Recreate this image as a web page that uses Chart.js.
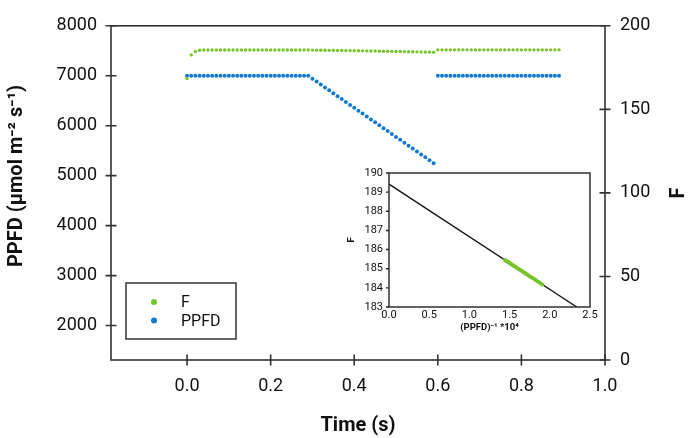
<!DOCTYPE html>
<html lang="en">
<head>
<meta charset="UTF-8">
<title>F and PPFD vs time</title>
<style>
  html, body { margin: 0; padding: 0; background: #fff; }
  .wrap { position: relative; width: 688px; height: 438px; }
  #mainChart { position: absolute; left: 0; top: 0; }
  #insetChart { position: absolute; left: 340px; top: 160px; }
</style>
</head>
<body>
<div class="wrap">
  <canvas id="mainChart" width="688" height="438"></canvas>
  <canvas id="insetChart" width="260" height="180"></canvas>
</div>

<script src="https://cdn.jsdelivr.net/npm/chart.js@4.4.0/dist/chart.umd.min.js"></script>
<script>
// --- data (sampling every 0.01 s) ---
const timeHold    = [0.00,0.01,0.02,0.03,0.04,0.05,0.06,0.07,0.08,0.09,0.10,0.11,0.12,0.13,0.14,0.15,0.16,0.17,0.18,0.19,0.20,0.21,0.22,0.23,0.24,0.25,0.26,0.27,0.28,0.29];
const timeRamp    = [0.30,0.31,0.32,0.33,0.34,0.35,0.36,0.37,0.38,0.39,0.40,0.41,0.42,0.43,0.44,0.45,0.46,0.47,0.48,0.49,0.50,0.51,0.52,0.53,0.54,0.55,0.56,0.57,0.58,0.59];
const timeRecover = [0.60,0.61,0.62,0.63,0.64,0.65,0.66,0.67,0.68,0.69,0.70,0.71,0.72,0.73,0.74,0.75,0.76,0.77,0.78,0.79,0.80,0.81,0.82,0.83,0.84,0.85,0.86,0.87,0.88,0.89];

const ppfdHold    = [7000,7000,7000,7000,7000,7000,7000,7000,7000,7000,7000,7000,7000,7000,7000,7000,7000,7000,7000,7000,7000,7000,7000,7000,7000,7000,7000,7000,7000,7000];
const ppfdRamp    = [6942,6883,6825,6767,6708,6650,6592,6533,6475,6417,6358,6300,6242,6183,6125,6067,6008,5950,5892,5833,5775,5717,5658,5600,5542,5483,5425,5367,5308,5250];
const ppfdRecover = [7000,7000,7000,7000,7000,7000,7000,7000,7000,7000,7000,7000,7000,7000,7000,7000,7000,7000,7000,7000,7000,7000,7000,7000,7000,7000,7000,7000,7000,7000];

const fHold    = [168.4,182.6,184.6,185.4,185.5,185.5,185.5,185.5,185.5,185.5,185.5,185.5,185.5,185.5,185.5,185.5,185.5,185.5,185.5,185.5,185.5,185.5,185.5,185.5,185.5,185.5,185.5,185.5,185.5,185.5];
const fRamp    = [185.46,185.42,185.39,185.36,185.32,185.29,185.25,185.21,185.17,185.13,185.10,185.05,185.01,184.97,184.93,184.89,184.84,184.80,184.75,184.71,184.66,184.61,184.56,184.51,184.46,184.41,184.35,184.30,184.24,184.18];
const fRecover = [185.6,185.6,185.6,185.6,185.6,185.6,185.6,185.6,185.6,185.6,185.6,185.6,185.6,185.6,185.6,185.6,185.6,185.6,185.6,185.6,185.6,185.6,185.6,185.6,185.6,185.6,185.6,185.6,185.6,185.6];

// inset: F against (PPFD)^-1 * 10^4 during the ramp, plus fitted line
const invPpfd = [1.441,1.453,1.465,1.478,1.491,1.504,1.517,1.531,1.544,1.558,1.573,1.587,1.602,1.617,1.633,1.648,1.664,1.681,1.697,1.714,1.732,1.749,1.767,1.786,1.805,1.824,1.843,1.863,1.884,1.905];
const fitX = [0, 2.335];
const fitY = [189.42, 183.0];

// tick labels
const timeTicks = [0, 0.2, 0.4, 0.6, 0.8, 1.0];
const ppfdTicks = [2000, 3000, 4000, 5000, 6000, 7000, 8000];
const fTicks = [0, 50, 100, 150, 200];
const insetXTicks = [0, 0.5, 1.0, 1.5, 2.0, 2.5];
const insetYTicks = [183, 184, 185, 186, 187, 188, 189, 190];

const GREEN = '#78c42c';
const BLUE = '#1479d2';
const INK = '#111';
const FONT = "Roboto, 'DejaVu Sans', sans-serif";

const time = timeHold.concat(timeRamp, timeRecover);
const ppfd = ppfdHold.concat(ppfdRamp, ppfdRecover);
const fVals = fHold.concat(fRamp, fRecover);
const pts = (xs, ys) => xs.map((x, i) => ({ x: x, y: ys[i] }));
const setTicks = list => scale => { scale.ticks = list.map(v => ({ value: v })); };

// frame box + ticks that cross the axis lines, titles, legend
const mainFrame = {
    id: 'mainFrame',
    afterDraw(chart) {
        const { ctx, chartArea: a, scales } = chart;
        ctx.save();
        ctx.strokeStyle = '#333';
        ctx.lineWidth = 1.6;
        ctx.strokeRect(a.left, a.top, a.right - a.left, a.bottom - a.top);
        ctx.beginPath();
        ppfdTicks.forEach(v => {
            const y = scales.y.getPixelForValue(v);
            ctx.moveTo(a.left - 5.5, y); ctx.lineTo(a.left + 5.5, y);
        });
        fTicks.forEach(v => {
            const y = scales.y1.getPixelForValue(v);
            ctx.moveTo(a.right - 5.5, y); ctx.lineTo(a.right + 5.5, y);
        });
        timeTicks.forEach(v => {
            const x = scales.x.getPixelForValue(v);
            ctx.moveTo(x, a.bottom - 5.5); ctx.lineTo(x, a.bottom + 5.5);
        });
        ctx.stroke();

        // vertical axis titles (both read bottom to top)
        ctx.fillStyle = INK;
        ctx.font = 'bold 20px ' + FONT;
        ctx.textAlign = 'center';
        ctx.textBaseline = 'middle';
        ctx.save();
        ctx.translate(679, (a.top + a.bottom) / 2);
        ctx.rotate(-Math.PI / 2);
        ctx.fillText('F', 0, 0);
        ctx.restore();
        ctx.save();
        ctx.translate(17, 176);
        ctx.rotate(-Math.PI / 2);
        ctx.fillText('PPFD (µmol m⁻² s⁻¹)', 0, 0);
        ctx.restore();
        ctx.restore();

        // legend box
        ctx.save();
        ctx.strokeStyle = '#333';
        ctx.lineWidth = 1.5;
        ctx.strokeRect(126, 283, 110, 56);
        ctx.font = '16px ' + FONT;
        ctx.textBaseline = 'middle';
        chart.data.datasets.forEach((ds, i) => {
            const y = 302 + i * 18.5;
            ctx.beginPath();
            ctx.fillStyle = ds.backgroundColor;
            ctx.arc(154, y, 3, 0, Math.PI * 2);
            ctx.fill();
            ctx.fillStyle = INK;
            ctx.fillText(ds.label, 181, y + 1);
        });
        ctx.restore();
    }
};

new Chart(document.getElementById('mainChart'), {
    type: 'scatter',
    data: {
        datasets: [
            {
                label: 'F',
                data: pts(time, fVals),
                yAxisID: 'y1',
                backgroundColor: GREEN,
                borderColor: GREEN,
                pointRadius: 1.7,
                borderWidth: 0
            },
            {
                label: 'PPFD',
                data: pts(time, ppfd),
                yAxisID: 'y',
                backgroundColor: BLUE,
                borderColor: BLUE,
                pointRadius: 2,
                borderWidth: 0
            }
        ]
    },
    options: {
        responsive: false,
        animation: false,
        layout: { padding: { top: 16, left: 0, right: 0, bottom: 0 } },
        plugins: { legend: { display: false }, tooltip: { enabled: false } },
        scales: {
            x: {
                type: 'linear',
                min: -0.182,
                max: 1.0,
                afterBuildTicks: setTicks(timeTicks),
                afterFit: s => { s.height = 78; },
                grid: { display: false, drawTicks: false },
                border: { display: false },
                ticks: {
                    color: INK, padding: 16,
                    font: { family: FONT, size: 18 },
                    callback: v => v.toFixed(1)
                },
                title: {
                    display: true, text: 'Time (s)', color: INK,
                    font: { family: FONT, size: 20, weight: 'bold', lineHeight: 1 },
                    padding: { top: 0, bottom: 2 }
                }
            },
            y: {
                position: 'left',
                min: 1310,
                max: 8000,
                afterBuildTicks: setTicks(ppfdTicks),
                afterFit: s => { s.width = 111; },
                grid: { display: false, drawTicks: false },
                border: { display: false },
                ticks: {
                    color: INK, padding: 14,
                    font: { family: FONT, size: 18 },
                    callback: v => String(v)
                }
            },
            y1: {
                position: 'right',
                min: 0,
                max: 200,
                afterBuildTicks: setTicks(fTicks),
                afterFit: s => { s.width = 83; },
                grid: { display: false, drawTicks: false },
                border: { display: false },
                ticks: {
                    color: INK, padding: 15,
                    font: { family: FONT, size: 18 },
                    callback: v => String(v)
                }
            }
        }
    },
    plugins: [mainFrame]
});

// inset chart
const insetFrame = {
    id: 'insetFrame',
    beforeDatasetsDraw(chart) {
        const { ctx, chartArea: a } = chart;
        ctx.save();
        ctx.fillStyle = '#fff';
        ctx.fillRect(a.left, a.top, a.right - a.left, a.bottom - a.top);
        ctx.restore();
    },
    afterDraw(chart) {
        const { ctx, chartArea: a, scales } = chart;
        ctx.save();
        ctx.strokeStyle = '#222';
        ctx.lineWidth = 1.4;
        ctx.strokeRect(a.left, a.top, a.right - a.left, a.bottom - a.top);
        ctx.beginPath();
        insetYTicks.forEach(v => {
            const y = scales.y.getPixelForValue(v);
            ctx.moveTo(a.left - 3, y); ctx.lineTo(a.left, y);
        });
        ctx.stroke();
        ctx.restore();
    }
};

new Chart(document.getElementById('insetChart'), {
    type: 'scatter',
    data: {
        datasets: [
            {
                label: 'F',
                data: pts(invPpfd, fRamp),
                backgroundColor: GREEN,
                borderColor: GREEN,
                pointRadius: 2,
                borderWidth: 0
            },
            {
                label: 'fit',
                data: pts(fitX, fitY),
                showLine: true,
                borderColor: '#111',
                borderWidth: 1.3,
                pointRadius: 0
            }
        ]
    },
    options: {
        responsive: false,
        animation: false,
        layout: { padding: { top: 13, left: 0, right: 10, bottom: 0 } },
        plugins: { legend: { display: false }, tooltip: { enabled: false } },
        scales: {
            x: {
                type: 'linear',
                min: 0,
                max: 2.5,
                afterBuildTicks: setTicks(insetXTicks),
                afterFit: s => { s.height = 33; },
                grid: { display: false, drawTicks: false },
                border: { display: false },
                ticks: {
                    color: INK, padding: 2,
                    font: { family: FONT, size: 11 },
                    callback: v => v.toFixed(1)
                },
                title: {
                    display: true, text: '(PPFD)⁻¹ *10⁴', color: INK,
                    font: { family: FONT, size: 9.5, weight: 'bold', lineHeight: 1 },
                    padding: { top: 0, bottom: 8 }
                }
            },
            y: {
                min: 183,
                max: 190,
                afterBuildTicks: setTicks(insetYTicks),
                afterFit: s => { s.width = 49; },
                grid: { display: false, drawTicks: false },
                border: { display: false },
                ticks: {
                    color: INK, padding: 6,
                    font: { family: FONT, size: 11 },
                    callback: v => String(v)
                },
                title: {
                    display: true, text: 'F', color: INK,
                    font: { family: FONT, size: 9.5, weight: 'bold', lineHeight: 1 },
                    padding: { top: 7, bottom: 0 }
                }
            }
        }
    },
    plugins: [insetFrame]
});
</script>
</body>
</html>
